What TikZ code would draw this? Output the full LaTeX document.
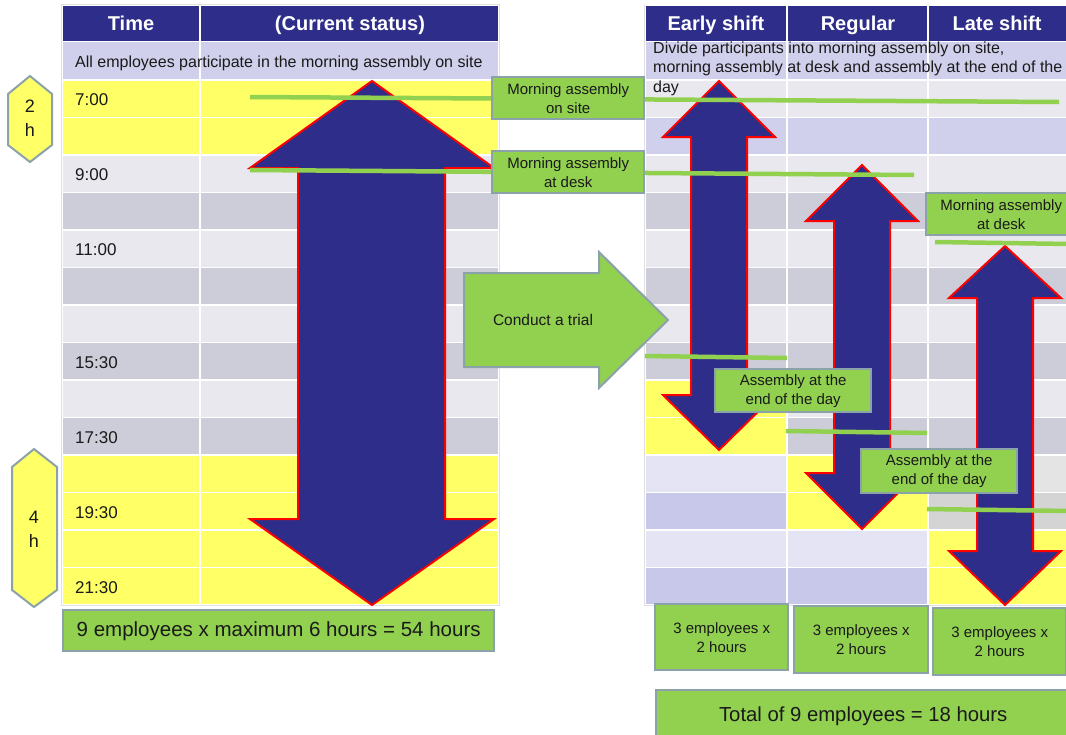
\documentclass[tikz,border=0pt]{standalone}
\usepackage{fontspec}
\setmainfont{Liberation Sans}
\usepackage{tikz}
\usetikzlibrary{positioning}

\definecolor{navy}{RGB}{46,46,138}
\definecolor{lav}{RGB}{208,208,236}
\definecolor{lavdark}{RGB}{200,200,234}
\definecolor{lavpale}{RGB}{228,228,244}
\definecolor{rowlight}{RGB}{232,232,238}
\definecolor{rowgray}{RGB}{205,205,218}
\definecolor{greylight}{RGB}{228,228,228}
\definecolor{greymid}{RGB}{212,212,212}
\definecolor{hiyellow}{RGB}{255,255,102}
\definecolor{leaf}{RGB}{146,208,80}
\definecolor{leafedge}{RGB}{140,162,170}
\definecolor{ink}{RGB}{26,26,26}

\tikzset{
  cell/.style={draw=white, line width=1.5pt},
  frame/.style={draw=black!12, line width=0.8pt},
  hdr/.style={text=white, anchor=base, font=\fontsize{20}{24}\selectfont\bfseries},
  body/.style={text=ink, inner sep=0pt, font=\fontsize{16}{19.5}\selectfont},
  timelbl/.style={anchor=west, text=ink, inner sep=0pt, font=\fontsize{17}{20}\selectfont},
  shiftarrow/.style={fill=navy, draw=red, line width=2pt, line join=miter},
  timeline/.style={draw=leaf, line width=4.5pt},
  note/.style={fill=leaf, draw=leafedge, line width=2.4pt, align=center, text=ink,
    inner sep=0pt, anchor=north west, font=\fontsize{15}{19}\selectfont},
  hexa/.style={fill=hiyellow, draw=leafedge, line width=2pt},
}

\begin{document}
\begin{tikzpicture}[x=1pt,y=-1pt]
  \useasboundingbox (0,0) rectangle (1066,734);
  \clip (0,0) rectangle (1066,734);
  \fill[white] (0,0) rectangle (1066,734);

  % current status table
  \filldraw[cell,fill=navy] (62,5) rectangle (200,41.5);
  \filldraw[cell,fill=navy] (200,5) rectangle (499,41.5);
  \filldraw[cell,fill=lav] (62,41.5) rectangle (200,80);
  \filldraw[cell,fill=lav] (200,41.5) rectangle (499,80);
  \foreach \c [count=\i from 0] in {hiyellow,hiyellow,rowlight,rowgray,rowlight,rowgray,rowlight,
      rowgray,rowlight,rowgray,hiyellow,hiyellow,hiyellow,hiyellow} {
    \filldraw[cell,fill=\c] (62,80+37.5*\i) rectangle (200,117.5+37.5*\i);
    \filldraw[cell,fill=\c] (200,80+37.5*\i) rectangle (499,117.5+37.5*\i);
  }
  \draw[frame] (61.5,4.5) rectangle (499.5,605.5);

  % shift table
  \filldraw[cell,fill=navy] (645,5) rectangle (787,41.5);
  \filldraw[cell,fill=navy] (787,5) rectangle (928,41.5);
  \filldraw[cell,fill=navy] (928,5) rectangle (1070,41.5);
  \filldraw[cell,fill=lav] (645,41.5) rectangle (787,80);
  \filldraw[cell,fill=lav] (787,41.5) rectangle (928,80);
  \filldraw[cell,fill=lav] (928,41.5) rectangle (1070,80);
  \foreach \ca/\cb/\cc [count=\i from 0] in {rowlight/rowlight/rowlight, lav/lav/lav,
      rowlight/rowlight/rowlight, rowgray/rowgray/rowgray, rowlight/rowlight/rowlight,
      rowgray/rowgray/rowgray, rowlight/rowlight/rowlight, rowgray/rowgray/rowgray,
      hiyellow/rowlight/rowlight, hiyellow/rowgray/rowgray, lavpale/hiyellow/greylight,
      lavdark/hiyellow/greymid, lavpale/lavpale/hiyellow, lavdark/lavdark/hiyellow} {
    \filldraw[cell,fill=\ca] (645,80+37.5*\i) rectangle (787,117.5+37.5*\i);
    \filldraw[cell,fill=\cb] (787,80+37.5*\i) rectangle (928,117.5+37.5*\i);
    \filldraw[cell,fill=\cc] (928,80+37.5*\i) rectangle (1070,117.5+37.5*\i);
  }
  \draw[frame] (644.5,4.5) -- (644.5,605.5) -- (1070,605.5);

  \node[hdr] (time) at (131,30) {Time};
  \node[hdr] (current) at (350,30) {(Current status)};
  \node[hdr] (early) at (716,30) {Early shift};
  \node[hdr] (regular) at (858,30) {Regular};
  \node[hdr] (late) at (997,30) {Late shift};

  \node[body,anchor=west] (allstaff) at (75,63)
    {All employees participate in the morning assembly on site};
  \node[body,anchor=north west,align=left] (divide) at (653,41.5)
    {Divide participants into morning assembly on site,\\
     morning assembly at desk and assembly at the end of the\\day};

  \foreach \t/\r in {7:00/0,9:00/2,11:00/4,15:30/7,17:30/9,19:30/11,21:30/13}
    \node[timelbl] (t\r) at (75,100+37.5*\r) {\t};

  % hour brackets
  \draw[hexa] (30,76) -- (52,94) -- (52,145) -- (30,162) -- (8,145) -- (8,94) -- cycle;
  \node[align=center,text=ink,font=\fontsize{18}{24}\selectfont] (twoh) at (30,118) {2\\h};
  \draw[hexa] (34,449) -- (57,467) -- (57,590) -- (34,607) -- (12,590) -- (12,467) -- cycle;
  \node[align=center,text=ink,font=\fontsize{18}{24}\selectfont] (fourh) at (34,529) {4\\h};

  % attendance arrows
  \draw[shiftarrow] (372,81) -- (494,168) -- (445,168) -- (445,519) -- (494,519) -- (372,605)
    -- (250,519) -- (298,519) -- (298,168) -- (250,168) -- cycle;
  \foreach \cx/\ta/\ha/\hb/\tb in {719/81/137/395/450, 862/165/221/473/529, 1005/246/298/551/605}
    \draw[shiftarrow] (\cx,\ta) -- (\cx+56,\ha) -- (\cx+28,\ha) -- (\cx+28,\hb) -- (\cx+56,\hb)
      -- (\cx,\tb) -- (\cx-56,\hb) -- (\cx-28,\hb) -- (\cx-28,\ha) -- (\cx-56,\ha) -- cycle;

  \draw[timeline] (250,97) -- (1059,102);
  \draw[timeline] (250,170) -- (914,175);
  \draw[timeline] (935,242) -- (1070,244);
  \draw[timeline] (645,356) -- (787,358);
  \draw[timeline] (786,431) -- (927,433);
  \draw[timeline] (927,509) -- (1070,511);

  \filldraw[fill=leaf,draw=leafedge,line width=2pt] (464,273) -- (599,273) -- (599,252) -- (668,320)
    -- (599,388) -- (599,367) -- (464,367) -- cycle;
  \node[text=ink,font=\fontsize{15.5}{19}\selectfont] (trial) at (543,320) {Conduct a trial};

  \node[note,minimum width=152,minimum height=42] (onsite) at (491,76) {Morning assembly\\on site};
  \node[note,minimum width=152,minimum height=42] (atdesk) at (491,150) {Morning assembly\\at desk};
  \node[note,minimum width=150,minimum height=42] (atdesklate) at (925,192) {Morning assembly\\at desk};
  \node[note,minimum width=156,minimum height=43] (endearly) at (714,368) {Assembly at the\\end of the day};
  \node[note,minimum width=156,minimum height=44] (endregular) at (860,448) {Assembly at the\\end of the day};

  \node[note,minimum width=431,minimum height=41,font=\fontsize{20.5}{24}\selectfont] (maxhours)
    at (62,609) {9 employees x maximum 6 hours = 54 hours};
  \node[note,minimum width=133,minimum height=66] (earlyhours) at (654,603) {3 employees x\\2 hours};
  \node[note,minimum width=134,minimum height=67] (regularhours) at (793,605) {3 employees x\\2 hours};
  \node[note,minimum width=133,minimum height=67] (latehours) at (932,607) {3 employees x\\2 hours};
  \node[note,minimum width=414,minimum height=52,font=\fontsize{20.3}{24}\selectfont] (total)
    at (655,689) {Total of 9 employees = 18 hours};
\end{tikzpicture}
\end{document}
